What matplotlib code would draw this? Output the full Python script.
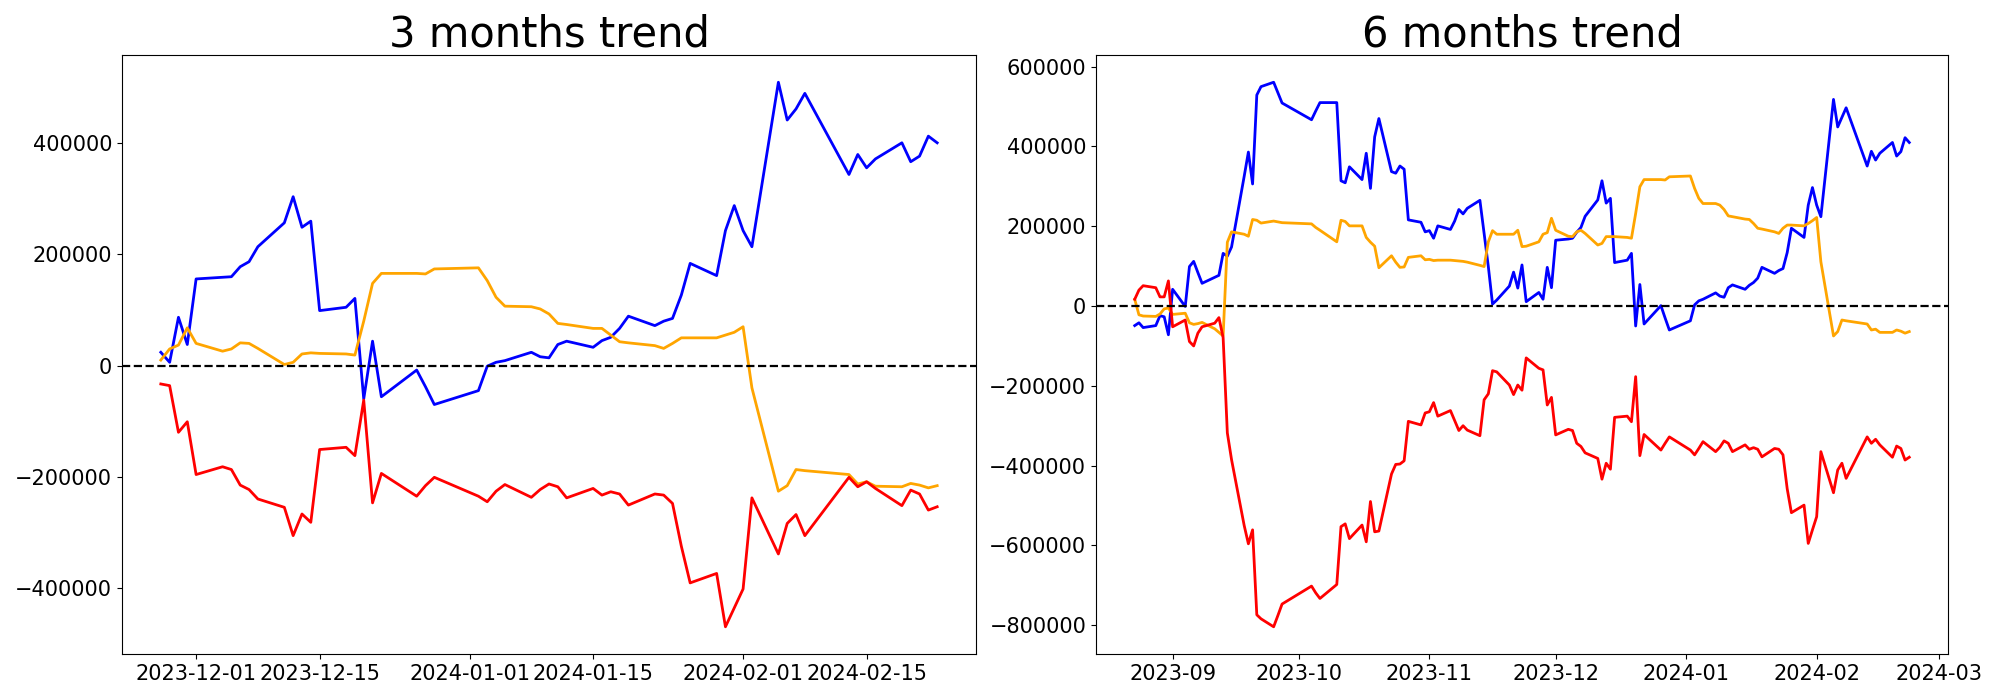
import pandas as pd
import matplotlib
matplotlib.use("Agg")
import matplotlib.pyplot as plt

# --- Data (values in thousands) ---
UNIT = 1000

# KRX trading days: closed on these weekdays
HOLIDAYS = ["2023-09-28", "2023-09-29", "2023-10-02", "2023-10-03", "2023-10-09",
            "2023-12-25", "2023-12-29", "2024-01-01", "2024-02-09", "2024-02-12"]

START_3M, END_3M = "2023-11-27", "2024-02-23"
START_6M, END_6M = "2023-08-23", "2024-02-23"

BLUE_3M = [24, 6, 87, 38, 156,
           159, 160, 178, 187, 214,
           257, 304, 249, 260, 99,
           105, 121, -60, 44, -56,
           -8, -38, -70,
           -45, -1, 6, 9,
           24, 16, 14, 38, 44,
           33, 45, 51, 67, 89,
           72, 80, 85, 127, 184,
           162, 243, 288, 243, 214,
           510, 442, 462, 490,
           344, 380, 356, 372,
           401, 367, 377, 413, 401]
ORANGE_3M = [10, 30, 37, 68, 40,
             26, 30, 41, 40, 31,
             2, 6, 21, 23, 22,
             21, 19, 80, 148, 166,
             166, 165, 174,
             176, 153, 123, 107,
             106, 102, 93, 76, 74,
             67, 67, 55, 43, 41,
             36, 31, 40, 50, 50,
             50, 55, 60, 70, -40,
             -226, -216, -187, -189,
             -196, -213, -209, -217,
             -218, -212, -215, -220, -216]
RED_3M = [-33, -36, -120, -101, -196,
          -182, -187, -215, -223, -240,
          -255, -306, -267, -282, -151,
          -147, -162, -62, -247, -194,
          -235, -216, -201,
          -235, -245, -226, -214,
          -237, -223, -213, -218, -238,
          -221, -233, -227, -231, -251,
          -231, -233, -248, -325, -391,
          -374, -470, -436, -402, -238,
          -339, -284, -268, -306,
          -201, -218, -209, -221,
          -252, -224, -231, -260, -254]

BLUE_6M = [-49, -42, -54, -49, -24, -27, -72,
           42, -1, 99, 112, 84, 57, 72, 77, 132, 125, 148, 325, 386, 306, 529, 550, 561, 535, 509,
           467, 489, 510, 510, 314, 309, 349, 317, 383, 295, 424, 470, 337, 333, 351, 343, 216, 210, 186,
           189, 170, 201, 192, 213, 242, 231, 245, 265, 182, 99, 5, 15, 50, 85, 45, 103, 11, 34, 17, 97, 46,
           165, 168, 170, 185, 197, 225, 266, 314, 258, 270, 109, 115, 132, -50, 54, -45, 1, -30, -60,
           -37, 3, 13, 17, 33, 25, 22, 46, 53, 42, 52, 59, 70, 97, 82, 89, 94, 134, 195, 172, 253, 297,
           253, 224, 518, 449, 473, 497, 351, 388, 366, 383, 410, 376, 387, 422, 410]
ORANGE_6M = [17, -22, -25, -26, -20, -7, -5,
             -21, -18, -42, -46, -44, -41, -57, -66, -75, 160, 186, 180, 175, 217, 215, 208, 213, 211, 209,
             206, 197, 190, 161, 215, 212, 201, 201, 172, 160, 150, 96, 126, 110, 97, 98, 122, 126, 116,
             117, 114, 115, 115, 114, 113, 112, 110, 102, 99, 161, 189, 180, 180, 180, 190, 149, 150, 161, 180, 184, 220,
             190, 175, 174, 186, 190, 182, 153, 157, 174, 174, 174, 172, 170, 232, 299, 317, 317, 316, 324,
             326, 295, 270, 257, 257, 253, 242, 226, 224, 218, 217, 207, 195, 193, 186, 182, 195, 203, 203, 201, 207, 214,
             222, 111, -75, -64, -35, -37, -45, -60, -58, -66, -66, -60, -63, -68, -64]
RED_6M = [17, 40, 51, 46, 23, 23, 63,
          -52, -35, -89, -100, -68, -52, -43, -29, -79, -318, -385, -550, -596, -561, -774, -784, -804, -776, -747,
          -702, -719, -733, -698, -553, -546, -583, -549, -591, -490, -566, -564, -421, -397, -396, -388, -289, -298, -268,
          -265, -242, -276, -262, -287, -312, -300, -311, -325, -235, -220, -162, -165, -198, -222, -198, -211, -130, -156, -160, -248, -229,
          -323, -309, -312, -344, -352, -368, -382, -434, -394, -409, -279, -276, -290, -177, -375, -322, -361, -344, -328,
          -361, -373, -357, -340, -365, -354, -338, -344, -365, -348, -359, -355, -359, -378, -357, -359, -373, -458, -518, -499, -595, -561,
          -528, -365, -468, -411, -394, -432, -328, -344, -334, -348, -379, -351, -357, -386, -379]

TITLES = ["3 months trend", "6 months trend"]


def trading_days(start, end):
    return pd.bdate_range(start, end, freq="C", holidays=HOLIDAYS)


def draw_panel(ax, dates, blue, orange, red, title):
    ax.plot(dates, [v * UNIT for v in blue], color="blue", linewidth=2)
    ax.plot(dates, [v * UNIT for v in orange], color="orange", linewidth=2)
    ax.plot(dates, [v * UNIT for v in red], color="red", linewidth=2)
    ax.axhline(0, color="black", linestyle="--", linewidth=1.6)
    ax.set_title(title, fontsize=30)
    ax.tick_params(labelsize=15)


fig = plt.figure(figsize=(20, 7), dpi=100)
ax1 = fig.add_axes([0.061, 0.0657, 0.427, 0.8557])
ax2 = fig.add_axes([0.548, 0.0657, 0.426, 0.8557])

dates_3m = trading_days(START_3M, END_3M)
dates_6m = trading_days(START_6M, END_6M)

draw_panel(ax1, dates_3m, BLUE_3M, ORANGE_3M, RED_3M, TITLES[0])
draw_panel(ax2, dates_6m, BLUE_6M, ORANGE_6M, RED_6M, TITLES[1])

fig.savefig("out.png", dpi=100)
